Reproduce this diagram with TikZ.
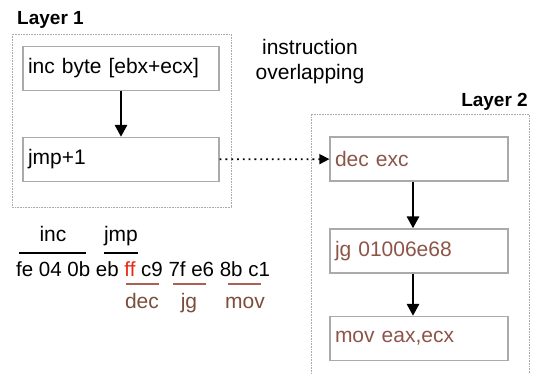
\documentclass[tikz,border=0pt]{standalone}
\usepackage{fontspec}
\setmainfont{Liberation Sans}
\usepackage{tikz}
\usetikzlibrary{arrows.meta}
\definecolor{codebrown}{RGB}{140,85,72}
\definecolor{linebrown}{RGB}{172,96,84}
\definecolor{labelbrown}{RGB}{122,78,58}
\definecolor{bytered}{RGB}{232,40,20}
\definecolor{boxgray}{RGB}{170,170,170}

\begin{document}
\begin{tikzpicture}[x=1pt,y=-1pt,
    font=\fontsize{21}{25}\selectfont,
    insbox/.style={draw=boxgray,line width=1.3pt,minimum width=196pt,minimum height=44pt,
      text width=186pt,align=left,inner sep=5pt},
    layerframe/.style={draw=boxgray,densely dotted,line width=0.6pt},
    flow/.style={line width=2.8pt,-{Triangle[length=12pt,width=12pt]}},
    jump/.style={line width=1.8pt,dash pattern=on 1.8pt off 4pt,-{Triangle[length=10pt,width=10pt]}}]
      \useasboundingbox (0,0) rectangle (536,374);

      %LAYER 1
      \draw[layerframe] (12,34) rectangle (231,207); %draw frame 1
      \node[anchor=base west,inner sep=0pt,font=\fontsize{19}{23}\selectfont\bfseries] (lay1) at (17,25) {Layer 1};
      \node[insbox] (inc) at (121,68.5) {inc byte [ebx+ecx]};
      \node[insbox] (jmp) at (121,159.5) {jmp+1};
      \draw[flow] (inc) -- (jmp);

      %LAYER 2
      \begin{scope}
        \clip (0,0) rectangle (536,374);
        \draw[layerframe] (311,380) -- (311,114) -- (529,114) -- (529,380); %draw frame 2
      \end{scope}
      \node[anchor=base east,inner sep=0pt,font=\fontsize{19}{23}\selectfont\bfseries] (lay2) at (528,107) {Layer 2};
      \node[insbox,minimum width=178pt,text width=168pt,text=codebrown] (dec) at (419,159) {dec exc};
      \node[insbox,minimum width=178pt,text width=168pt,text=codebrown] (jg) at (419,251) {jg 01006e68};
      \node[insbox,minimum width=178pt,text width=168pt,text=codebrown] (mov) at (419,338.5) {mov eax,ecx};
      \draw[flow] (dec.south-|413,0) -- (jg.north-|413,0);
      \draw[flow] (jg.south-|413,0) -- (mov.north-|413,0);

      %OVERLAP
      \draw[jump] (jmp) -- (dec);
      \node[align=center,inner sep=0pt] (overlap) at (310,62) {instruction\\overlapping};

      %BYTES
      \node[anchor=base west,inner sep=0pt,font=\fontsize{20.5}{24}\selectfont] (bytes) at (16,277) {fe 04 0b eb \textcolor{bytered}{ff} c9 7f e6 8b c1};
      \node[anchor=base,inner sep=0pt] (incop) at (53,242) {inc};
      \node[anchor=base,inner sep=0pt] (jmpop) at (121,242) {jmp};
      \draw[line width=1.3pt] (19,253) -- (86,253); %opcode bars
      \draw[line width=1.3pt] (104,253) -- (138,253);
      \draw[linebrown,line width=1.3pt] (126,284) -- (159,284); %hidden bars
      \draw[linebrown,line width=1.3pt] (173,284) -- (206,284);
      \draw[linebrown,line width=1.3pt] (228,284) -- (261,284);
      \node[anchor=base,inner sep=0pt,text=labelbrown] (decop) at (142,309) {dec};
      \node[anchor=base,inner sep=0pt,text=labelbrown] (jgop) at (189,309) {jg};
      \node[anchor=base,inner sep=0pt,text=labelbrown] (movop) at (245,309) {mov};
    \end{tikzpicture}
\end{document}
